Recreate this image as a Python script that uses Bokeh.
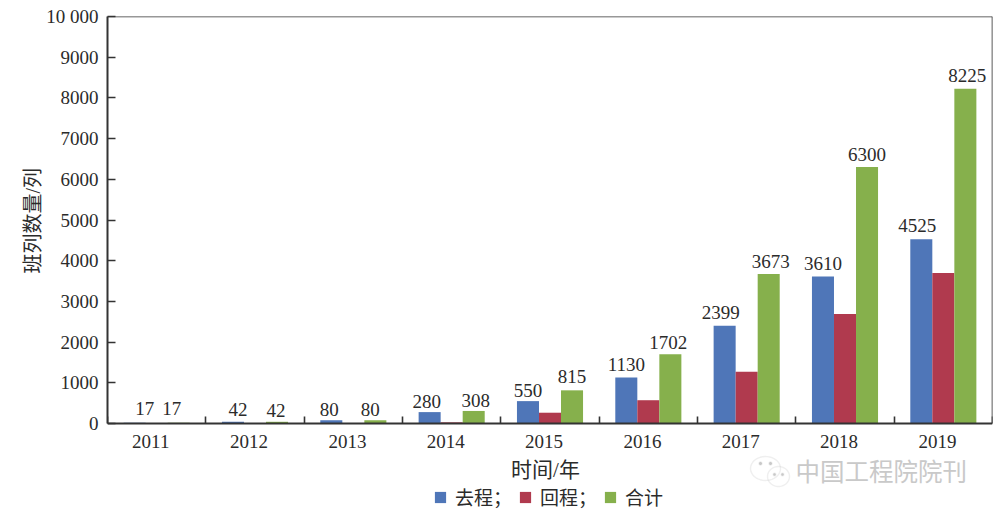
import numpy as np
from bokeh.embed import file_html
from bokeh.resources import INLINE
from bokeh.plotting import figure
from bokeh.models import (ColumnDataSource, FixedTicker, Label, Legend, LegendItem,
                          LinearAxis, PolyAnnotation, Range1d, Title)

years = ["2011", "2012", "2013", "2014", "2015", "2016", "2017", "2018", "2019"]
outbound = [17, 42, 80, 280, 550, 1130, 2399, 3610, 4525]
inbound = [0, 0, 0, 28, 265, 572, 1274, 2690, 3700]
total = [17, 42, 80, 308, 815, 1702, 3673, 6300, 8225]
y_ticks = [0, 1000, 2000, 3000, 4000, 5000, 6000, 7000, 8000, 9000, 10000]
y_tick_labels = ["0", "1000", "2000", "3000", "4000", "5000", "6000", "7000", "8000", "9000", "10 000"]
series_names = ["去程；", "回程；", "合计"]
x_title = "时间/年"
y_title = "班列数量/列"
watermark = "中国工程院院刊"

# hand nudges of the value labels, in pixels (style, not data)
nudge_out_x = [10, 5, -2, -3, 0, 0, -4, 0, -4]
nudge_tot_x = [-7, -1, -5, 2, 0, -2, 2, 0, 2]
nudge_out_y = [-14, -12, -11, -11, -11, -13, -13, -13, -14]
nudge_tot_y = [-14, -11, -11, -10, -14, -12, -13, -13, -13]

SERIF = "'Liberation Serif', 'Noto Sans CJK SC'"
INK = "#333333"
TXT = "#2b2b2b"
COLORS = ["#4F76B8", "#B03A4E", "#86B04C"]
W, H = 1000, 515
FL, FR, FT = 107, 8, 16
ZERO_Y = 423  # pixel row of the value axis zero
Y_MAX = 10000
y_low = -(H - ZERO_Y) / (ZERO_Y - FT) * Y_MAX  # frame runs on below zero so that it can hold the legend

p = figure(width=W, height=H, output_backend="svg", toolbar_location=None,
           x_range=Range1d(0, 9), y_range=Range1d(y_low, Y_MAX),
           x_axis_type=None, y_axis_type=None,
           min_border_left=FL, min_border_right=FR, min_border_top=FT, min_border_bottom=0)
p.grid.visible = False
p.outline_line_color = None
p.background_fill_color = "white"

idx = np.arange(len(years)) + 0.5
bw = 0.224
renderers = []
for off, vals, col in zip((-bw, 0, bw), (outbound, inbound, total), COLORS):
    renderers.append(p.vbar(x=idx + off, top=vals, width=bw, bottom=0,
                            fill_color=col, line_color=None))

for off, vals, nx, ny in ((-bw, outbound, nudge_out_x, nudge_out_y), (bw, total, nudge_tot_x, nudge_tot_y)):
    src = ColumnDataSource(dict(x=idx + off, y=vals, t=[str(v) for v in vals], dx=nx, dy=ny))
    p.text(x="x", y="y", text="t", source=src, x_offset="dx", y_offset="dy",
           text_align="center", text_baseline="middle",
           text_font=SERIF, text_font_size="19px", text_color=TXT)

year_ticks = idx - 0.06
xaxis = LinearAxis(ticker=FixedTicker(ticks=list(year_ticks), minor_ticks=list(range(0, 10))),
                   major_label_overrides={float(i): y for i, y in zip(year_ticks, years)},
                   fixed_location=0,
                   major_tick_in=0, major_tick_out=0,
                   minor_tick_in=7, minor_tick_out=0, minor_tick_line_color=INK, minor_tick_line_width=1.6,
                   axis_line_color=INK, axis_line_width=2,
                   major_label_text_font=SERIF, major_label_text_font_size="19px",
                   major_label_text_color=TXT, major_label_standoff=11)
p.add_layout(xaxis, "below")

yaxis = LinearAxis(ticker=FixedTicker(ticks=y_ticks),
                   major_label_overrides=dict(zip(y_ticks, y_tick_labels)),
                   bounds=(0, Y_MAX),
                   major_tick_in=8, major_tick_out=0, major_tick_line_color=INK, major_tick_line_width=1.6,
                   minor_tick_in=0, minor_tick_out=0,
                   axis_line_color=INK, axis_line_width=2,
                   major_label_text_font=SERIF, major_label_text_font_size="19px",
                   major_label_text_color=TXT, major_label_standoff=9)
p.add_layout(yaxis, "left")

p.add_layout(Title(text=y_title, align="left", offset=H - 273, standoff=0,
                   text_font=SERIF, text_font_size="20px", text_font_style="normal",
                   text_color=TXT), "left")

# plain frame lines on top and right
for side, kw in (("above", dict(fixed_location=Y_MAX)), ("right", dict(fixed_location=9, bounds=(0, Y_MAX)))):
    p.add_layout(LinearAxis(ticker=FixedTicker(ticks=[]), axis_line_color=INK, axis_line_width=1.6,
                            major_tick_line_color=None, minor_tick_line_color=None,
                            major_label_text_color=None, **kw), side)

p.add_layout(Label(x=545 - FL, y=H - 469, x_units="screen", y_units="screen", text=x_title,
                   text_font=SERIF, text_font_size="21px", text_color=TXT,
                   text_baseline="middle", text_align="center"))

legend = Legend(items=[LegendItem(label=n, renderers=[r]) for n, r in zip(series_names, renderers)],
                orientation="horizontal", location=(433 - FL, 5), border_line_color=None,
                background_fill_alpha=0, glyph_width=14, glyph_height=14, spacing=6,
                label_text_font=SERIF, label_text_font_size="19px", label_text_color=TXT,
                label_standoff=8, margin=0, padding=0)
p.add_layout(legend)

p.add_layout(Label(x=795 - FL, y=H - 470, x_units="screen", y_units="screen", text=watermark,
                   text_font="'Noto Sans CJK SC'", text_font_size="24.5px", text_color="#c9c9c9",
                   text_baseline="middle", text_align="left"))

t = np.linspace(0, 2 * np.pi, 40)
bubbles = [(765, 468, 15, 12, False), (778, 476, 11, 10, False),
           (760, 463, 1.5, 1.5, True), (770, 463, 1.5, 1.5, True),
           (774, 474, 1.3, 1.3, True), (782, 474, 1.3, 1.3, True)]
for cx, cy, rx, ry, solid in bubbles:
    p.add_layout(PolyAnnotation(xs=list(cx - FL + rx * np.cos(t)), ys=list(H - cy + ry * np.sin(t)),
                                xs_units="screen", ys_units="screen",
                                fill_color="#c9c9c9", fill_alpha=1 if solid else 0,
                                line_color="#c9c9c9", line_width=1.4))

open("out.html", "w").write(file_html(p, INLINE))
